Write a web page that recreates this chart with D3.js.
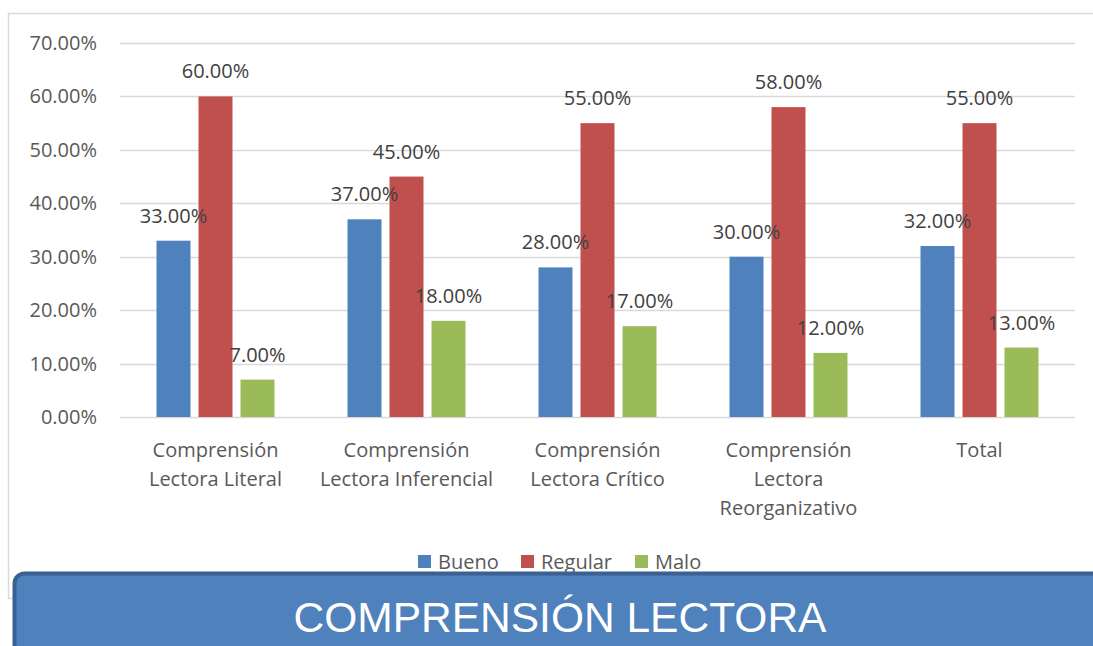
<!DOCTYPE html>
<html>
<head>
<meta charset="utf-8">
<script src="https://cdn.jsdelivr.net/npm/d3@7"></script>
<style>
  body { margin: 0; background: #fff; }
  svg { display: block; }
</style>
</head>
<body>
<svg id="chart" width="1093" height="646"></svg>
<script>
// data
var categories = [
  ['Comprensión', 'Lectora Literal'],
  ['Comprensión', 'Lectora Inferencial'],
  ['Comprensión', 'Lectora Crítico'],
  ['Comprensión', 'Lectora', 'Reorganizativo'],
  ['Total']
];
var seriesNames = ['Bueno', 'Regular', 'Malo'];
var bueno = [33, 37, 28, 30, 32];
var regular = [60, 45, 55, 58, 55];
var malo = [7, 18, 17, 12, 13];
var yTicks = [0, 10, 20, 30, 40, 50, 60, 70];
var colors = ['#4f81bd', '#c0504d', '#9bbb59'];
var title = 'COMPRENSIÓN LECTORA';

var values = [bueno, regular, malo];
var font = '"Open Sans", sans-serif';
var fontSize = 20;
var svg = d3.select('#chart');

// outer chart frame
svg.append('rect')
  .attr('x', 8.5).attr('y', 13.5)
  .attr('width', 1100).attr('height', 585)
  .attr('fill', '#fff').attr('stroke', '#d9d9d9')
  .attr('stroke-width', 1.5);

var plotLeft = 120, plotRight = 1075, plotTop = 43, plotBottom = 417;

var x = d3.scaleBand()
  .domain(d3.range(categories.length))
  .range([plotLeft, plotRight]);

var y = d3.scaleLinear()
  .domain([0, 70])
  .range([plotBottom, plotTop]);

var barW = 34, gap = 8;
var inner = d3.scaleBand()
  .domain(d3.range(seriesNames.length))
  .range([0, 3 * barW + 2 * gap])
  .paddingInner(gap / (barW + gap));

// gridlines
svg.append('g')
  .selectAll('line')
  .data(yTicks)
  .join('line')
  .attr('x1', plotLeft).attr('x2', plotRight)
  .attr('y1', function(d) { return Math.round(y(d)) + 0.5; })
  .attr('y2', function(d) { return Math.round(y(d)) + 0.5; })
  .attr('stroke', '#d9d9d9')
  .attr('stroke-width', 1.5);

// y tick labels
svg.append('g')
  .selectAll('text')
  .data(yTicks)
  .join('text')
  .attr('x', 97)
  .attr('y', function(d) { return y(d); })
  .attr('dy', '0.35em')
  .attr('text-anchor', 'end')
  .attr('font-family', font)
  .attr('font-size', fontSize)
  .attr('fill', '#595959')
  .text(function(d) { return d.toFixed(2) + '%'; });

// bars
var groups = svg.append('g')
  .selectAll('g')
  .data(categories)
  .join('g')
  .attr('transform', function(d, i) {
    var off = x(i) + (x.bandwidth() - (3 * barW + 2 * gap)) / 2;
    return 'translate(' + off + ',0)';
  });

function rowValues(d, i) {
  return values.map(function(s, k) { return { k: k, v: s[i] }; });
}

groups.selectAll('rect')
  .data(rowValues)
  .join('rect')
  .attr('x', function(d) { return inner(d.k); })
  .attr('width', inner.bandwidth())
  .attr('y', function(d) { return y(d.v); })
  .attr('height', function(d) { return plotBottom - y(d.v); })
  .attr('fill', function(d) { return colors[d.k]; });

groups.selectAll('text')
  .data(rowValues)
  .join('text')
  .attr('x', function(d) { return inner(d.k) + inner.bandwidth() / 2; })
  .attr('y', function(d) { return y(d.v) - 18; })
  .attr('text-anchor', 'middle')
  .attr('font-family', font)
  .attr('font-size', fontSize)
  .attr('fill', '#404040')
  .text(function(d) { return d.v.toFixed(2) + '%'; });

// category labels
svg.append('g')
  .selectAll('text')
  .data(categories)
  .join('text')
  .attr('text-anchor', 'middle')
  .attr('font-family', font)
  .attr('font-size', fontSize)
  .attr('fill', '#595959')
  .each(function(lines, i) {
    var t = d3.select(this);
    lines.forEach(function(l, j) {
      t.append('tspan')
        .attr('x', x(i) + x.bandwidth() / 2)
        .attr('y', 457 + j * 29)
        .text(l);
    });
  });

// legend
var legendX = [418, 521, 635];
var legend = svg.append('g')
  .selectAll('g')
  .data(seriesNames)
  .join('g')
  .attr('transform', function(d, i) { return 'translate(' + legendX[i] + ',555)'; });
legend.append('rect')
  .attr('width', 13).attr('height', 13)
  .attr('fill', function(d, i) { return colors[i]; });
legend.append('text')
  .attr('x', 20).attr('y', 13.5)
  .attr('font-family', font)
  .attr('font-size', fontSize)
  .attr('fill', '#595959')
  .text(function(d) { return d; });

// title banner
svg.append('rect')
  .attr('x', 14.5).attr('y', 573.5)
  .attr('width', 1120).attr('height', 120)
  .attr('rx', 10)
  .attr('fill', '#4f81bd')
  .attr('stroke', '#3b6191')
  .attr('stroke-width', 4);

svg.append('text')
  .attr('x', 560).attr('y', 632)
  .attr('text-anchor', 'middle')
  .attr('font-family', '"Liberation Sans", Arial, sans-serif')
  .attr('font-size', 42.5)
  .attr('fill', '#fff')
  .text(title);
</script>
</body>
</html>
